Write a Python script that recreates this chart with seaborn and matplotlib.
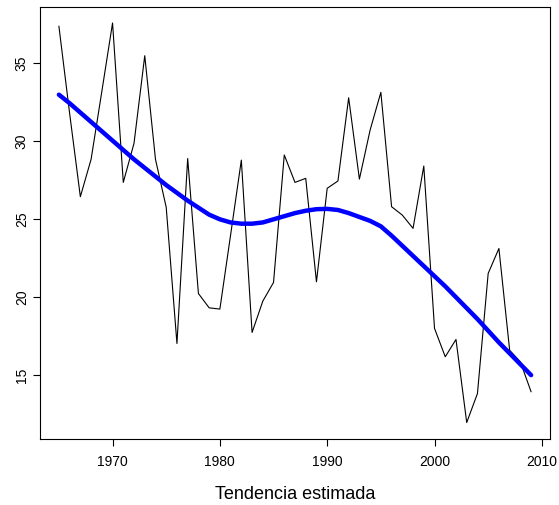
import numpy as np
import pandas as pd
import matplotlib
matplotlib.use("Agg")
import matplotlib.pyplot as plt
import seaborn as sns

# ─── Datos ───────────────────────────────────────────────────────────────────
anios = list(range(1965, 2010))
serie = [37.4, 31.8, 26.45, 28.85, 33.2, 37.6, 27.37, 29.88, 35.5, 28.85,
         25.77, 17.03, 28.9, 20.24, 19.32, 19.24, 24.0, 28.8, 17.74, 19.75,
         20.95, 29.13, 27.37, 27.63, 20.99, 26.99, 27.46, 32.8, 27.58, 30.73,
         33.15, 25.81, 25.27, 24.42, 28.42, 18.0, 16.18, 17.29, 11.96, 13.82,
         21.53, 23.13, 16.6, 15.85, 13.93]
tendencia = [33.0, 32.45, 31.85, 31.25, 30.65, 30.05, 29.45, 28.85, 28.3, 27.75,
             27.2, 26.7, 26.2, 25.75, 25.3, 25.0, 24.8, 24.72, 24.72, 24.8,
             25.0, 25.2, 25.4, 25.55, 25.65, 25.67, 25.6, 25.4, 25.15, 24.9,
             24.55, 23.95, 23.3, 22.65, 22.0, 21.35, 20.7, 20.0, 19.3, 18.6,
             17.85, 17.1, 16.4, 15.7, 15.0]
xticks = [1970, 1980, 1990, 2000, 2010]
yticks = [15, 20, 25, 30, 35]

df = pd.DataFrame({"anio": anios, "serie": serie, "tendencia": tendencia})

# ─── Estilo tipo R base ──────────────────────────────────────────────────────
sns.set_theme(style="ticks")
plt.rcParams.update({
    "font.family": ["Liberation Sans", "DejaVu Sans"],
    "text.color": "black",
    "axes.labelcolor": "black",
    "axes.edgecolor": "black",
    "axes.linewidth": 0.8,
    "xtick.major.size": 5,
    "ytick.major.size": 5,
    "xtick.major.width": 0.8,
    "ytick.major.width": 0.8,
    "xtick.color": "black",
    "ytick.color": "black",
    "xtick.labelcolor": "black",
    "ytick.labelcolor": "black",
})

fig = plt.figure(figsize=(5.59, 5.05), dpi=100)
ax = fig.add_axes([40 / 559, 1 - 438.5 / 505, 510 / 559, 431.5 / 505])

sns.lineplot(data=df, x="anio", y="serie", ax=ax, color="black", lw=0.8)
sns.lineplot(data=df, x="anio", y="tendencia", ax=ax, color="#0000ff", lw=3.2)

# rango con extensión del 4% como en R
x0, x1 = min(anios), max(anios)
px = 0.04 * (x1 - x0)
ax.set_xlim(x0 - px, x1 + px)
y0, y1 = min(serie), max(serie)
py = 0.04 * (y1 - y0)
ax.set_ylim(y0 - py, y1 + py)

ax.set_xticks(xticks)
ax.set_yticks(yticks)
ax.tick_params(axis="x", labelsize=10, pad=7)
ax.tick_params(axis="y", labelsize=10, pad=3)
for lab in ax.get_yticklabels():
    lab.set_rotation(90)
    lab.set_va("center")

ax.set_xlabel("Tendencia estimada", fontsize=13, labelpad=12)
ax.set_ylabel("")
for s in ax.spines.values():
    s.set_visible(True)

plt.savefig("out.png", dpi=100)
plt.close()
